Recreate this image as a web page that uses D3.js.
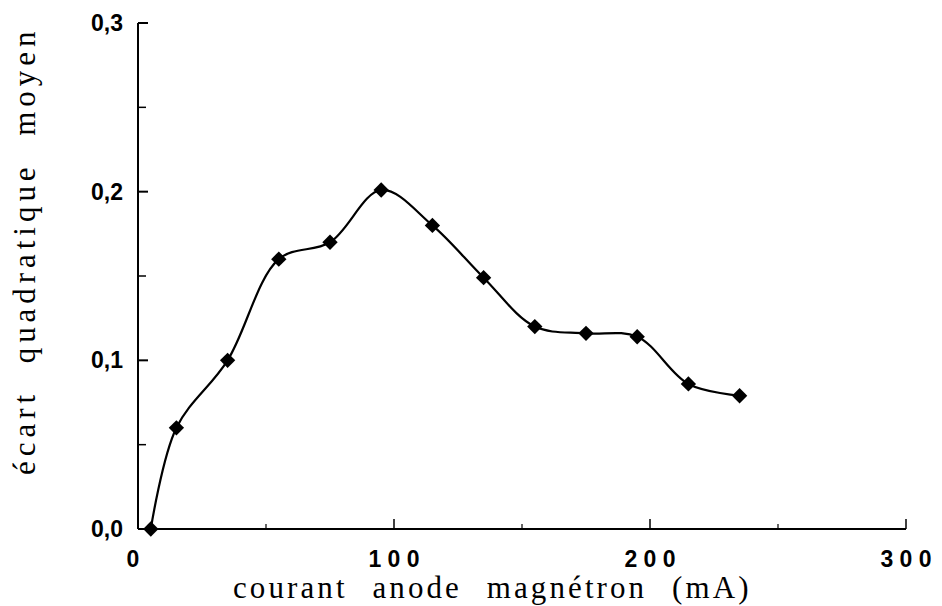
<!DOCTYPE html>
<html><head><meta charset="utf-8">
<script src="https://cdn.jsdelivr.net/npm/d3@7"></script>
<style>body{margin:0;background:#fff}</style>
</head><body>
<svg id="c" width="942" height="606"></svg>
<script>
const current = [5, 15, 35, 55, 75, 95, 115, 135, 155, 175, 195, 215, 235];
const rmsDev  = [0.0, 0.06, 0.10, 0.16, 0.17, 0.201, 0.18, 0.149, 0.12, 0.116, 0.114, 0.086, 0.079];
const xTicks = [0, 100, 200, 300];
const xMinorTicks = [50, 150, 250];
const yTicks = [0, 0.1, 0.2, 0.3];
const yMinorTicks = [0.05, 0.15, 0.25];
const xTitle = "courant anode magnétron (mA)";
const yTitle = "écart quadratique moyen";

const svg = d3.select("#c");
const x = d3.scaleLinear().domain([0, 300]).range([138, 906]);
const y = d3.scaleLinear().domain([0, 0.3]).range([529, 23]);
const fmt = v => d3.format(".1f")(v).replace(".", ",");

svg.append("line").attr("x1", x(0)).attr("x2", x(300)).attr("y1", y(0)).attr("y2", y(0)).attr("stroke", "#000").attr("stroke-width", 2);
svg.append("line").attr("x1", x(0)).attr("x2", x(0)).attr("y1", y(0)).attr("y2", y(0.3)).attr("stroke", "#000").attr("stroke-width", 2);

svg.selectAll(".yt").data(yTicks).enter().append("line")
  .attr("x1", x(0)).attr("x2", x(0) + 10).attr("y1", d => y(d)).attr("y2", d => y(d))
  .attr("stroke", "#000").attr("stroke-width", 2);
svg.selectAll(".ymt").data(yMinorTicks).enter().append("line")
  .attr("x1", x(0)).attr("x2", x(0) + 8).attr("y1", d => y(d)).attr("y2", d => y(d))
  .attr("stroke", "#000").attr("stroke-width", 1.5);
svg.selectAll(".xt").data(xTicks.slice(1)).enter().append("line")
  .attr("x1", d => x(d)).attr("x2", d => x(d)).attr("y1", y(0)).attr("y2", y(0) - 10)
  .attr("stroke", "#000").attr("stroke-width", 1.5);
svg.selectAll(".xmt").data(xMinorTicks).enter().append("line")
  .attr("x1", d => x(d)).attr("x2", d => x(d)).attr("y1", y(0)).attr("y2", y(0) - 5)
  .attr("stroke", "#000").attr("stroke-width", 1.2);

svg.selectAll(".yl").data(yTicks).enter().append("text")
  .attr("x", x(0) - 15).attr("y", d => y(d) + 8)
  .attr("text-anchor", "end")
  .attr("font-family", "Liberation Sans, Arial, sans-serif").attr("font-weight", "bold").attr("font-size", 23)
  .text(fmt);
svg.selectAll(".xl").data(xTicks).enter().append("text")
  .attr("x", d => x(d) + (d === 0 ? -5 : 0)).attr("y", 567)
  .attr("text-anchor", "middle")
  .attr("font-family", "Liberation Sans, Arial, sans-serif").attr("font-weight", "bold").attr("font-size", 23)
  .attr("style", "white-space:pre")
  .text(d => String(d).split("").join(" "));

svg.append("text").attr("x", 233).attr("y", 598)
  .attr("font-family", "Liberation Serif, Times New Roman, serif").attr("font-size", 31)
  .attr("style", "letter-spacing:1.5px;word-spacing:14px")
  .attr("textLength", 517).attr("lengthAdjust", "spacing")
  .text(xTitle);
svg.append("text").attr("transform", "translate(35,475) rotate(-90)")
  .attr("font-family", "Liberation Serif, Times New Roman, serif").attr("font-size", 31)
  .attr("style", "letter-spacing:1.5px;word-spacing:14px")
  .attr("textLength", 445).attr("lengthAdjust", "spacing")
  .text(yTitle);

const pts = current.map((c, i) => [c, rmsDev[i]]);
const line = d3.line().x(d => x(d[0])).y(d => y(d[1])).curve(d3.curveCatmullRom.alpha(0.5));
svg.append("path").attr("d", line(pts)).attr("fill", "none").attr("stroke", "#000").attr("stroke-width", 2.2);

const sym = d3.symbol().type(d3.symbolDiamond2).size(150);
svg.selectAll(".pt").data(pts).enter().append("path")
  .attr("d", sym).attr("transform", d => `translate(${x(d[0])},${y(d[1])})`)
  .attr("fill", "#000");
</script>
</body></html>
